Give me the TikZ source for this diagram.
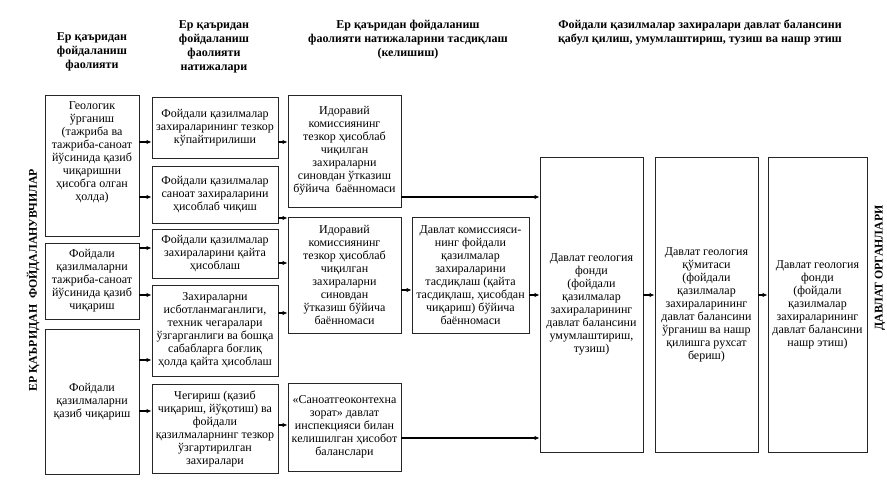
\documentclass[tikz,border=0pt]{standalone}
\usepackage{fontspec}
\setmainfont{Liberation Serif}
\usetikzlibrary{arrows.meta}

\tikzset{
  box/.style={draw=black!85, line width=0.9pt, align=center, inner sep=1pt,
    font=\fontsize{12}{13}\selectfont},
  head/.style={align=center, font=\bfseries\fontsize{12}{14}\selectfont},
  side/.style={rotate=90, font=\bfseries\fontsize{11.8}{13}\selectfont},
  arr/.style={line width=1.3pt, -{Latex[length=5pt,width=4.5pt]}}
}

\begin{document}
\begin{tikzpicture}[x=1pt,y=-1pt]
  \useasboundingbox (0,0) rectangle (887,484);

  % headings
  \node[head] (h1) at (92,52) {Ер қаъридан\\фойдаланиш\\фаолияти};
  \node[head] (h2) at (214,47) {Ер қаъридан\\фойдаланиш\\фаолияти\\натижалари};
  \node[head] (h3) at (408,40) {Ер қаъридан фойдаланиш\\фаолияти натижаларини тасдиқлаш\\(келишиш)};
  \node[head] (h4) at (700,33) {Фойдали қазилмалар захиралари давлат балансини\\қабул қилиш, умумлаштириш, тузиш ва нашр этиш};

  \node[side] (users) at (33,280) {ЕР ҚАЪРИДАН\ \ ФОЙДАЛАНУВЧИЛАР};
  \node[side] (state) at (880,268) {ДАВЛАТ ОРГАНЛАРИ};

  % first column
  \node[box, inner sep=3pt] (a1) at (92,165.5)
    {\parbox[t][135pt][t]{88pt}{\vspace*{4pt}\centering Геологик\\ўрганиш\\(тажриба ва\\тажриба-саноат\\йўсинида қазиб\\чиқаришни\\ҳисобга олган\\ҳолда)}};
  \node[box, minimum width=94pt, minimum height=76pt] (a2) at (92,281)
    {Фойдали\\қазилмаларни\\тажриба-саноат\\йўсинида қазиб\\чиқариш};
  \node[box, minimum width=94pt, minimum height=145pt] (a3) at (92,401.5)
    {Фойдали\\қазилмаларни\\қазиб чиқариш};

  % second column
  \node[box, minimum width=126pt, minimum height=61pt] (b1) at (215,127.5)
    {Фойдали қазилмалар\\захираларининг тезкор\\кўпайтирилиши};
  \node[box, minimum width=126pt, minimum height=57pt] (b2) at (215,194.5)
    {Фойдали қазилмалар\\саноат захираларини\\ҳисоблаб чиқиш};
  \node[box, minimum width=126pt, minimum height=49pt] (b3) at (215,253.5)
    {Фойдали қазилмалар\\захираларини қайта\\ҳисоблаш};
  \node[box, minimum width=126pt, minimum height=91pt] (b4) at (215,330.5)
    {Захираларни\\исботланмаганлиги,\\техник чегаралари\\ўзгарганлиги ва бошқа\\сабабларга боғлиқ\\ҳолда қайта ҳисоблаш};
  \node[box, minimum width=126pt, minimum height=89pt] (b5) at (215,428.5)
    {Чегириш (қазиб\\чиқариш, йўқотиш) ва\\фойдали\\қазилмаларнинг тезкор\\ўзгартирилган\\захиралари};

  % third column
  \node[box, minimum width=113pt, minimum height=112pt] (c1) at (344.5,151)
    {Идоравий\\комиссиянинг\\тезкор ҳисоблаб\\чиқилган\\захираларни\\синовдан ўтказиш\\бўйича\ \ баённомаси};
  \node[box, minimum width=113pt, minimum height=116pt] (c2) at (344.5,275)
    {Идоравий\\комиссиянинг\\тезкор ҳисоблаб\\чиқилган\\захираларни\\синовдан\\ўтказиш бўйича\\баённомаси};
  \node[box, minimum width=113pt, minimum height=88pt] (c3) at (344.5,427)
    {«Саноатгеоконтехна\\зорат» давлат\\инспекцияси билан\\келишилган ҳисобот\\баланслари};

  \node[box, minimum width=117pt, minimum height=116pt] (d1) at (470.5,275)
    {Давлат комиссияси-\\нинг фойдали\\қазилмалар\\захираларини\\тасдиқлаш (қайта\\тасдиқлаш, ҳисобдан\\чиқариш) бўйича\\баённомаси};

  % state bodies
  \node[box, minimum width=103pt, minimum height=295pt] (e1) at (591.5,304.5)
    {Давлат геология\\фонди\\(фойдали\\қазилмалар\\захираларининг\\давлат балансини\\умумлаштириш,\\тузиш)};
  \node[box, minimum width=103pt, minimum height=295pt] (f1) at (706.5,304.5)
    {Давлат геология\\қўмитаси\\(фойдали\\қазилмалар\\захираларининг\\давлат балансини\\ўрганиш ва нашр\\қилишга рухсат\\бериш)};
  \node[box, minimum width=99pt, minimum height=295pt] (g1) at (817.5,304.5)
    {Давлат геология\\фонди\\(фойдали\\қазилмалар\\захираларининг\\давлат балансини\\нашр этиш)};

  % arrows
  \draw[arr] (a1.east |- 0,142) -- (b1.west |- 0,142);
  \draw[arr] (a1.east |- 0,197) -- (b2.west |- 0,197);
  \draw[arr] (a2.east |- 0,248) -- (b3.west |- 0,248);
  \draw[arr] (a2.east |- 0,295) -- (b4.west |- 0,295);
  \draw[arr] (a3.east |- 0,360) -- (b4.west |- 0,360);
  \draw[arr] (a3.east |- 0,411) -- (b5.west |- 0,411);

  \draw[arr] (b1.east |- 0,142) -- (c1.west |- 0,142);
  \draw[arr] (b2.east |- 0,218) -- (c2.west |- 0,218);
  \draw[arr] (b3.east |- 0,263) -- (c2.west |- 0,263);
  \draw[arr] (b4.east |- 0,313) -- (c2.west |- 0,313);
  \draw[arr] (b5.east |- 0,425) -- (c3.west |- 0,425);

  \draw[arr] (c1.east |- 0,197) -- (e1.west |- 0,197);
  \draw[arr] (c2.east |- 0,290) -- (d1.west |- 0,290);
  \draw[arr] (d1.east |- 0,295) -- (e1.west |- 0,295);
  \draw[arr] (c3.east |- 0,438) -- (e1.west |- 0,438);
  \draw[arr] (e1.east |- 0,295) -- (f1.west |- 0,295);
  \draw[arr] (f1.east |- 0,295) -- (g1.west |- 0,295);
\end{tikzpicture}
\end{document}
